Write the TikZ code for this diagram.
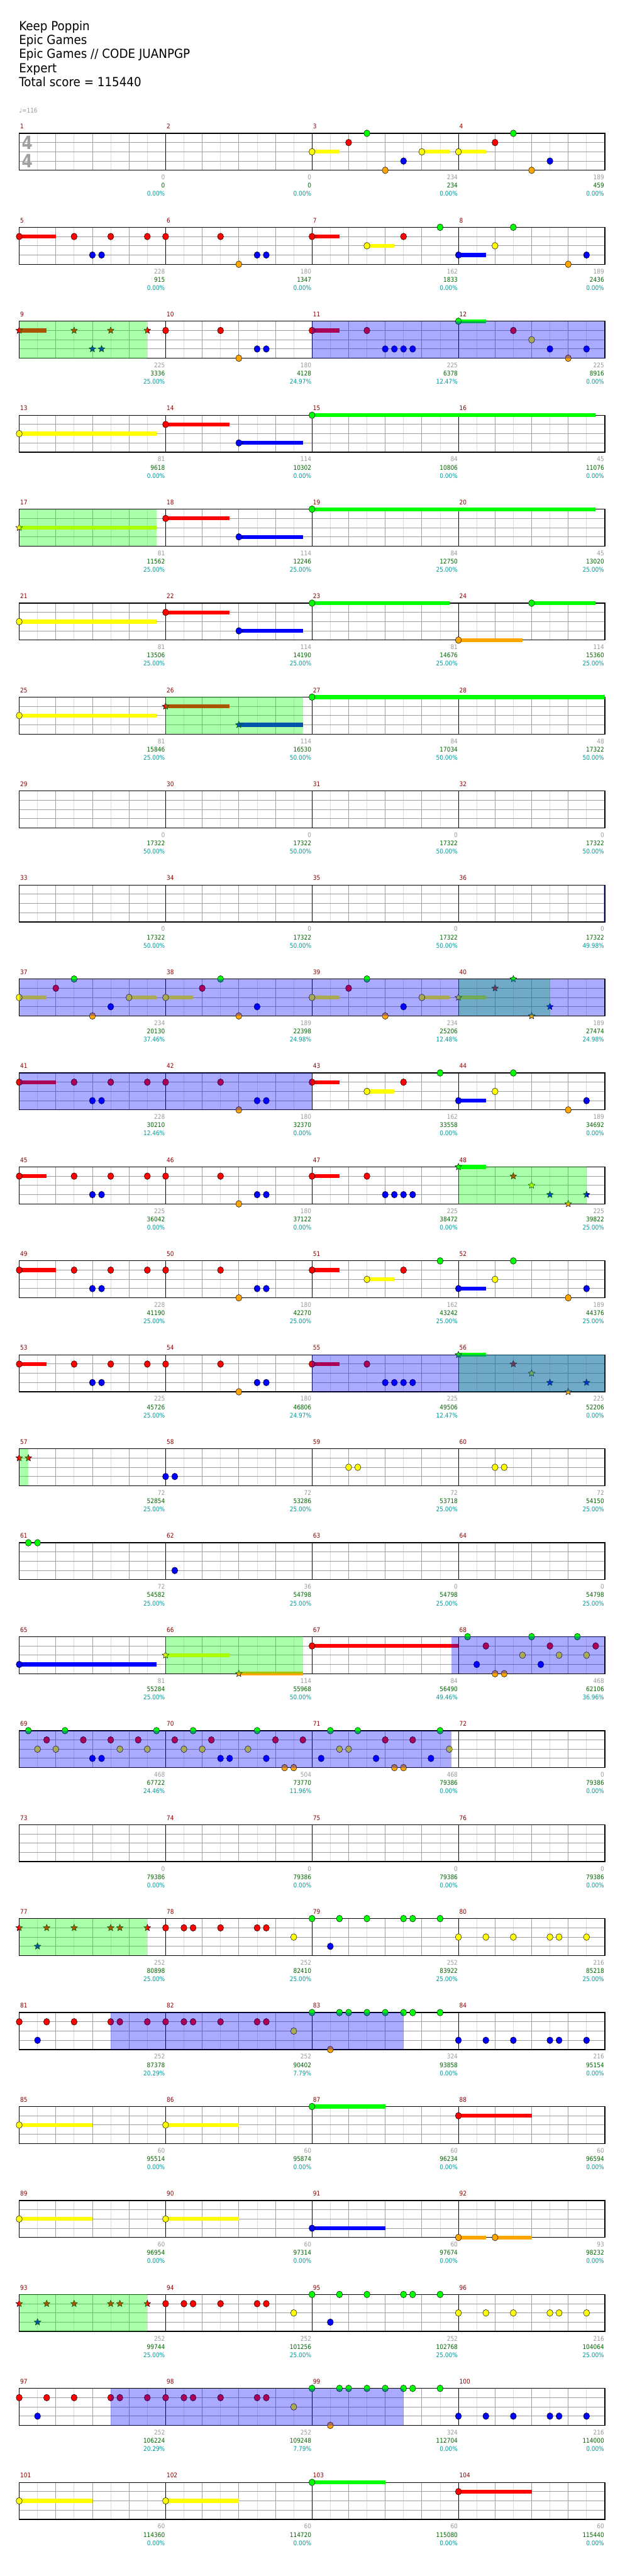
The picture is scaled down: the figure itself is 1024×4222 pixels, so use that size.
\documentclass[tikz,border=0pt]{standalone}
\usepackage{fontspec}
\setmainfont{DejaVu Sans}
\newfontfamily\titlefont[FakeStretch=0.92]{DejaVu Sans}
\newfontfamily\statfont[FakeStretch=0.88]{DejaVu Sans}
\newfontfamily\sigfont[FakeStretch=0.85]{DejaVu Sans}
\usepackage{tikz}
\usetikzlibrary{shapes.geometric}

\definecolor{lane0}{HTML}{00FF00}
\definecolor{lane1}{HTML}{FF0000}
\definecolor{lane2}{HTML}{FFFF00}
\definecolor{lane3}{HTML}{0000FF}
\definecolor{lane4}{HTML}{FFA500}
\definecolor{barred}{HTML}{8B0000}
\definecolor{gaingray}{HTML}{999999}
\definecolor{totalgreen}{HTML}{006400}
\definecolor{pctteal}{HTML}{009999}
\definecolor{sublight}{HTML}{DDDDDD}
\definecolor{beatgray}{HTML}{A0A0A0}

\tikzset{
  gem/.style={ellipse, draw=black, line width=0.5pt, inner sep=0pt, minimum width=10pt, minimum height=11pt},
  starnote/.style={star, star points=5, star point ratio=2.2, draw=black, line width=0.5pt, inner sep=0pt, minimum size=11.5pt},
  phrasefill/.style={fill=lane0, fill opacity=0.333},
  activfill/.style={fill=lane3, fill opacity=0.333},
  subline/.style={draw=sublight, line width=0.8pt},
  beatline/.style={draw=beatgray, line width=0.9pt},
  laneline/.style={draw=beatgray, line width=1pt},
  barline/.style={draw=black, line width=0.8pt},
  staffframe/.style={draw=black, line width=1.3pt},
  barnum/.style={text=barred, font=\statfont\fontsize{10.5}{11}\selectfont, inner sep=0pt, anchor=base west},
  stat/.style={font=\statfont\fontsize{10.5}{11}\selectfont, inner sep=0pt, anchor=base east},
  titletext/.style={font=\titlefont\fontsize{20.5}{23}\selectfont, inner sep=0pt, anchor=base west},
  timesig/.style={text=beatgray, font=\sigfont\bfseries\fontsize{30}{30}\selectfont, inner sep=0pt}
}

% posicao de uma nota: compasso, posicao (semicolcheias), pista
\newcommand{\gemxy}[3]{%
  \pgfmathtruncatemacro\gemrow{(#1-1)/4}%
  \pgfmathtruncatemacro\gemcol{mod(#1-1,4)}%
  \pgfmathsetmacro\gx{31.5+240*\gemcol+15*#2}%
  \pgfmathsetmacro\gy{218.5+154*\gemrow+15.15*#3}}
\newcommand{\gem}[4][0]{\gemxy{#2}{#3}{#4}\edef\gemcolor{lane#4}%
  \ifdim #1pt>0pt \fill[fill=\gemcolor] (\gx,\gy-3.2) rectangle ({\gx+15*#1},\gy+3.2);\fi
  \node[gem, fill=\gemcolor] (g#2-#3-#4) at (\gx,\gy) {};}
\newcommand{\stargem}[4][0]{\gemxy{#2}{#3}{#4}\edef\gemcolor{lane#4}%
  \ifdim #1pt>0pt \fill[fill=\gemcolor] (\gx,\gy-3.2) rectangle ({\gx+15*#1},\gy+3.2);\fi
  \node[starnote, fill=\gemcolor] (s#2-#3-#4) at (\gx,\gy) {};}
\newcommand{\phrase}[3]{\gemxy{#1}{#2}{0}%
  \fill[phrasefill] (\gx,\gy) rectangle ({\gx+15*(#3-#2)},\gy+60.6);}
\newcommand{\activ}[3]{\gemxy{#1}{#2}{0}%
  \fill[activfill] (\gx,\gy) rectangle ({\gx+15*(#3-#2)},\gy+60.6);}

% frases que se repetem
\newcommand{\riffA}[3]{#3[#2]{#1}{0}{1}\foreach \gp/\gl in {6/1,8/3,9/3,10/1,14/1} {#3{#1}{\gp}{\gl}}}
\newcommand{\riffB}[1]{\foreach \gp/\gl in {0/1,6/1,8/4,10/3,11/3} {\gem{#1}{\gp}{\gl}}}
\newcommand{\riffC}[1]{\gem[3]{#1}{0}{1}\gem[3]{#1}{6}{2}\gem{#1}{10}{1}\gem{#1}{14}{0}}
\newcommand{\riffD}[1]{\gem[3]{#1}{0}{3}\foreach \gp/\gl in {4/2,6/0,12/4,14/3} {\gem{#1}{\gp}{\gl}}}
\newcommand{\riffE}[1]{\gem[3]{#1}{0}{1}\foreach \gp/\gl in {6/1,8/3,9/3,10/3,11/3} {\gem{#1}{\gp}{\gl}}}
\newcommand{\riffF}[2]{#2[3]{#1}{0}{0}\foreach \gp/\gl in {6/1,8/2,10/3,12/4,14/3} {#2{#1}{\gp}{\gl}}}
\newcommand{\riffH}[2]{#2[3]{#1}{0}{2}\foreach \gp/\gl in {4/1,6/0,8/4,10/3} {#2{#1}{\gp}{\gl}}}
\newcommand{\riffG}[1]{\riffH{#1}{\gem}\gem[3]{#1}{12}{2}}
\newcommand{\riffI}[2]{\foreach \gp in {0,3,6,10,11,14} {#2{#1}{\gp}{1}}#2{#1}{2}{3}}
\newcommand{\riffJ}[1]{\foreach \gp in {0,2,3,6,10,11} {\gem{#1}{\gp}{1}}\gem{#1}{14}{2}}
\newcommand{\riffK}[1]{\foreach \gp in {0,3,6,10,11,14} {\gem{#1}{\gp}{0}}\gem{#1}{2}{3}}
\newcommand{\riffL}[2]{\foreach \gp in {0,3,6,10,11,14} {\gem{#1}{\gp}{#2}}}
\newcommand{\riffM}[1]{\foreach \gp in {0,3,4,6,8,10,11,14} {\gem{#1}{\gp}{0}}\gem{#1}{2}{4}}

\begin{document}
\begin{tikzpicture}[x=1pt, y=-1pt]
\fill[white] (0,0) rectangle (1024,4222);
\useasboundingbox (0,0) rectangle (1024,4222);

% LAYER 1: Cabecalho
\node[titletext] (song) at (31,49.7) {Keep Poppin};
\node[titletext] (artist) at (31,72.7) {Epic Games};
\node[titletext] (charter) at (31,95.7) {Epic Games // CODE JUANPGP};
\node[titletext] (level) at (31,118.7) {Expert};
\node[titletext] (score) at (31,141.7) {Total score = 115440};
\node[barnum, text=gaingray] (bpm) at (31,185) {\fontspec{DejaVu Sans}♩\statfont=116};

% LAYER 2: Pautas (grade)
\foreach \r in {0,...,25} {
  \begin{scope}[shift={(31.5,218.5+154*\r)}]
    \foreach \k in {0,...,15} \draw[subline] ({30+60*\k},0) -- ++(0,60.6);
    \foreach \k in {1,2,3} \draw[laneline] (0,15.15*\k) -- (960,15.15*\k);
    \foreach \k in {1,2,3,5,6,7,9,10,11,13,14,15} \draw[beatline] (60*\k,0) -- ++(0,60.6);
    \foreach \k in {1,2,3} \draw[barline] (240*\k,0) -- ++(0,60.6);
    \draw[staffframe] (0,0) rectangle (960,60.6);
  \end{scope}
}
\node[timesig] (sigtop) at (44.5,233.8) {4};
\node[timesig] (sigbot) at (44.5,263.5) {4};

% LAYER 3: Numeros dos compassos e pontuacao
\foreach \gn/\tot/\pc [count=\m] in {0/0/0.00, 0/0/0.00, 234/234/0.00, 189/459/0.00,
  228/915/0.00, 180/1347/0.00, 162/1833/0.00, 189/2436/0.00,
  225/3336/25.00, 180/4128/24.97, 225/6378/12.47, 225/8916/0.00,
  81/9618/0.00, 114/10302/0.00, 84/10806/0.00, 45/11076/0.00,
  81/11562/25.00, 114/12246/25.00, 84/12750/25.00, 45/13020/25.00,
  81/13506/25.00, 114/14190/25.00, 81/14676/25.00, 114/15360/25.00,
  81/15846/25.00, 114/16530/50.00, 84/17034/50.00, 48/17322/50.00,
  0/17322/50.00, 0/17322/50.00, 0/17322/50.00, 0/17322/50.00,
  0/17322/50.00, 0/17322/50.00, 0/17322/50.00, 0/17322/49.98,
  234/20130/37.46, 189/22398/24.98, 234/25206/12.48, 189/27474/24.98,
  228/30210/12.46, 180/32370/0.00, 162/33558/0.00, 189/34692/0.00,
  225/36042/0.00, 180/37122/0.00, 225/38472/0.00, 225/39822/25.00,
  228/41190/25.00, 180/42270/25.00, 162/43242/25.00, 189/44376/25.00,
  225/45726/25.00, 180/46806/24.97, 225/49506/12.47, 225/52206/0.00,
  72/52854/25.00, 72/53286/25.00, 72/53718/25.00, 72/54150/25.00,
  72/54582/25.00, 36/54798/25.00, 0/54798/25.00, 0/54798/25.00,
  81/55284/25.00, 114/55968/50.00, 84/56490/49.46, 468/62106/36.96,
  468/67722/24.46, 504/73770/11.96, 468/79386/0.00, 0/79386/0.00,
  0/79386/0.00, 0/79386/0.00, 0/79386/0.00, 0/79386/0.00,
  252/80898/25.00, 252/82410/25.00, 252/83922/25.00, 216/85218/25.00,
  252/87378/20.29, 252/90402/7.79, 324/93858/0.00, 216/95154/0.00,
  60/95514/0.00, 60/95874/0.00, 60/96234/0.00, 60/96594/0.00,
  60/96954/0.00, 60/97314/0.00, 60/97674/0.00, 93/98232/0.00,
  252/99744/25.00, 252/101256/25.00, 252/102768/25.00, 216/104064/25.00,
  252/106224/20.29, 252/109248/7.79, 324/112704/0.00, 216/114000/0.00,
  60/114360/0.00, 60/114720/0.00, 60/115080/0.00, 60/115440/0.00} {
  \gemxy{\m}{0}{0}
  \node[barnum] (bar\m) at (\gx+1.5,\gy-7.5) {\m};
  \node[stat, text=gaingray] (gain\m) at (\gx+239,\gy+76) {\gn};
  \node[stat, text=totalgreen] (total\m) at (\gx+239,\gy+89.6) {\tot};
  \node[stat, text=pctteal] (pct\m) at (\gx+239,\gy+103) {\pc\%};
}

% LAYER 4: Notas e sustains
\riffG{3} \riffH{4}{\gem}
\riffA{5}{4}{\gem} \riffB{6} \riffC{7} \riffD{8}
\riffA{9}{3}{\stargem} \riffB{10} \riffE{11} \riffF{12}{\gem}
\gem[15]{13}{0}{2} \gem[7]{14}{0}{1} \gem[7]{14}{8}{3} \gem[31]{15}{0}{0}
\stargem[15]{17}{0}{2} \gem[7]{18}{0}{1} \gem[7]{18}{8}{3} \gem[31]{19}{0}{0}
\gem[15]{21}{0}{2} \gem[7]{22}{0}{1} \gem[7]{22}{8}{3} \gem[15]{23}{0}{0} \gem[7]{24}{0}{4} \gem[7]{24}{8}{0}
\gem[15]{25}{0}{2} \stargem[7]{26}{0}{1} \stargem[7]{26}{8}{3} \gem[32]{27}{0}{0}
\riffG{37} \riffH{38}{\gem} \riffG{39} \riffH{40}{\stargem}
\riffA{41}{4}{\gem} \riffB{42} \riffC{43} \riffD{44}
\riffA{45}{3}{\gem} \riffB{46} \riffE{47} \riffF{48}{\stargem}
\riffA{49}{4}{\gem} \riffB{50} \riffC{51} \riffD{52}
\riffA{53}{3}{\gem} \riffB{54} \riffE{55} \riffF{56}{\stargem}
\stargem{57}{0}{1} \stargem{57}{1}{1} \gem{58}{0}{3} \gem{58}{1}{3}
\gem{59}{4}{2} \gem{59}{5}{2} \gem{60}{4}{2} \gem{60}{5}{2}
\gem{61}{1}{0} \gem{61}{2}{0} \gem{62}{1}{3}
\gem[15]{65}{0}{3} \stargem[7]{66}{0}{2} \stargem[7]{66}{8}{4} \gem[16]{67}{0}{1}
\foreach \gp/\gl in {1/0,2/3,3/1,4/4,5/4,7/2,8/0,9/3,10/1,11/2,13/0,14/2,15/1} {\gem{68}{\gp}{\gl}}
\foreach \gp/\gl in {1/0,2/2,3/1,4/2,5/0,7/1,8/3,9/3,10/1,11/2,13/1,14/2,15/0} {\gem{69}{\gp}{\gl}}
\foreach \gp/\gl in {1/1,2/2,3/0,4/2,5/1,6/3,7/3,9/2,10/0,11/3,12/1,13/4,14/4,15/1} {\gem{70}{\gp}{\gl}}
\foreach \gp/\gl in {1/3,2/0,3/2,4/2,5/0,7/3,8/1,9/4,10/4,11/1,13/3,14/0,15/2} {\gem{71}{\gp}{\gl}}
\riffI{77}{\stargem} \riffJ{78} \riffK{79} \riffL{80}{2}
\riffI{81}{\gem} \riffJ{82} \riffM{83} \riffL{84}{3}
\gem[8]{85}{0}{2} \gem[8]{86}{0}{2} \gem[8]{87}{0}{0} \gem[8]{88}{0}{1}
\gem[8]{89}{0}{2} \gem[8]{90}{0}{2} \gem[8]{91}{0}{3} \gem[3]{92}{0}{4} \gem[4]{92}{4}{4}
\riffI{93}{\stargem} \riffJ{94} \riffK{95} \riffL{96}{2}
\riffI{97}{\gem} \riffJ{98} \riffM{99} \riffL{100}{3}
\gem[8]{101}{0}{2} \gem[8]{102}{0}{2} \gem[8]{103}{0}{0} \gem[8]{104}{0}{1}

% LAYER 5: Star power (verde) e ativacao (azul)
\phrase{9}{0}{14} \phrase{17}{0}{15} \phrase{26}{0}{15} \phrase{40}{0}{10}
\phrase{48}{0}{14} \phrase{56}{0}{16} \phrase{57}{0}{1} \phrase{66}{0}{15}
\phrase{77}{0}{14} \phrase{93}{0}{14}
\activ{11}{0}{32} \activ{36}{15.9}{16} \activ{37}{0}{64} \activ{41}{0}{32}
\activ{55}{0}{32} \activ{67}{15.25}{32} \activ{69}{0}{47.25}
\activ{81}{10}{42} \activ{97}{10}{42}
\end{tikzpicture}
\end{document}
